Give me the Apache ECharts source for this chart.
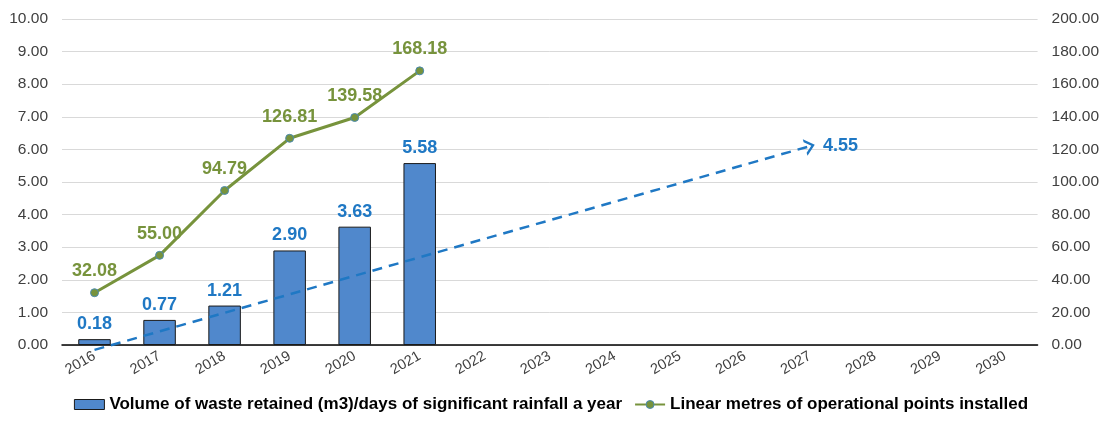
<!DOCTYPE html>
<html><head><meta charset="utf-8">
<script src="https://cdn.jsdelivr.net/npm/echarts@6/dist/echarts.min.js"></script>
<style>html,body{margin:0;padding:0;background:#fff}#c{width:1102px;height:421px}</style>
</head><body><div id="c"></div>
<script>
const years = ['2016','2017','2018','2019','2020','2021','2022','2023','2024','2025','2026','2027','2028','2029','2030'];
const wasteVolume = [0.18, 0.77, 1.21, 2.90, 3.63, 5.58];
const linearMetres = [32.08, 55.00, 94.79, 126.81, 139.58, 168.18];
const trendStart = ['2016', -0.15];
const trendEnd = ['2027', 6.1];
const trendLabel = '4.55';
const leftTicks = {min: 0, max: 10, interval: 1};
const rightTicks = {min: 0, max: 200, interval: 20};

const font = 'Helvetica, Arial, "Liberation Sans", sans-serif';
const chevron = 'path://M0,10 L5,0 L10,10 L8.2,10 L5,3.6 L1.8,10 Z';
const trendValues = years.map(y => y === trendStart[0] ? trendStart[1] : (y === trendEnd[0] ? trendEnd[1] : null));
const endIdx = years.indexOf(trendEnd[0]);

function trendData(rot) {
  return trendValues.map((v, i) => {
    if (v === null) return null;
    if (i === endIdx) return {value: v, symbol: chevron, symbolSize: [17, 10], symbolRotate: rot,
      label: {show: true, position: 'right', distance: 6, formatter: trendLabel, color: '#1f78c4', fontWeight: 'bold', fontSize: 18}};
    return {value: v, symbol: 'none'};
  });
}

const chart = echarts.init(document.getElementById('c'));
chart.setOption({
  animation: false,
  textStyle: {fontFamily: font},
  grid: {left: 62, right: 64, top: 19, bottom: 76, containLabel: false},
  legend: {
    bottom: 3, left: 'center', itemGap: 12, itemWidth: 30, itemHeight: 10, itemStyle: {borderWidth: 1},
    textStyle: {fontFamily: '"Liberation Sans Narrow", "Arial Narrow", Arial, sans-serif', fontWeight: 'bold', fontSize: 17, color: '#000'},
    data: [
      {name: 'Volume of waste retained (m3)/days of significant rainfall a year', icon: 'rect'},
      {name: 'Linear metres of operational points installed'}
    ]
  },
  xAxis: {
    type: 'category', data: years,
    axisLine: {lineStyle: {color: '#000', width: 1.5}},
    axisTick: {show: false},
    axisLabel: {rotate: 30, color: '#404040', fontSize: 14.5, margin: 10}
  },
  yAxis: [
    {type: 'value', min: leftTicks.min, max: leftTicks.max, interval: leftTicks.interval,
     axisLabel: {formatter: v => v.toFixed(2), color: '#404040', fontSize: 15.5, margin: 14},
     splitLine: {lineStyle: {color: '#d9d9d9', width: 1}}, axisLine: {show: false}, axisTick: {show: false}},
    {type: 'value', min: rightTicks.min, max: rightTicks.max, interval: rightTicks.interval,
     axisLabel: {formatter: v => v.toFixed(2), color: '#404040', fontSize: 15.5, margin: 14},
     splitLine: {show: false}, axisLine: {show: false}, axisTick: {show: false}}
  ],
  series: [
    {
      name: 'Volume of waste retained (m3)/days of significant rainfall a year',
      type: 'bar', data: wasteVolume, barWidth: '50%', yAxisIndex: 0,
      itemStyle: {color: '#5088cc', borderColor: '#1a1a1a', borderWidth: 1},
      label: {show: true, position: 'top', distance: 6, formatter: p => p.value.toFixed(2),
              color: '#1f78c4', fontWeight: 'bold', fontSize: 18}
    },
    {
      name: 'trend', type: 'line', yAxisIndex: 0, clip: false, connectNulls: true,
      data: trendData(0), z: 5,
      lineStyle: {color: '#1f78c4', type: [10, 7], width: 2.5},
      itemStyle: {color: '#1f78c4'},
      showSymbol: true, symbol: 'none'
    },
    {
      name: 'Linear metres of operational points installed',
      type: 'line', data: linearMetres, yAxisIndex: 1,
      lineStyle: {color: '#77933c', width: 3},
      itemStyle: {color: '#77933c', borderColor: '#4a8ab0', borderWidth: 1},
      symbol: 'circle', symbolSize: 8,
      label: {show: true, position: 'top', distance: 8, formatter: p => p.value.toFixed(2),
              color: '#77933c', fontWeight: 'bold', fontSize: 18}
    }
  ]
});
const p0 = chart.convertToPixel({xAxisIndex: 0, yAxisIndex: 0}, trendStart);
const p1 = chart.convertToPixel({xAxisIndex: 0, yAxisIndex: 0}, trendEnd);
const ang = Math.atan2(p0[1] - p1[1], p1[0] - p0[0]) * 180 / Math.PI;
chart.setOption({series: [{}, {data: trendData(-(90 - ang))}, {}]});
</script></body></html>
